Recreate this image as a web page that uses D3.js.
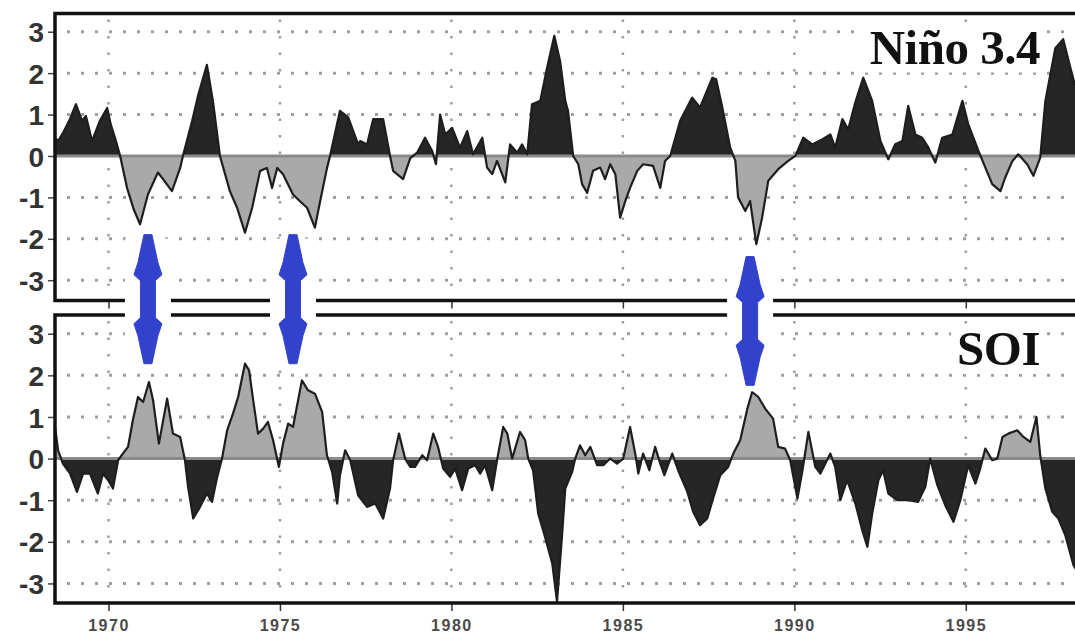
<!DOCTYPE html>
<html>
<head>
<meta charset="utf-8">
<script src="https://cdn.jsdelivr.net/npm/d3@7/dist/d3.min.js"></script>
<style>
  body { margin: 0; background: #fff; }
  svg { display: block; }
</style>
</head>
<body>
<div id="chart"></div>
<script>
// Niño 3.4 index
var ninoYears = [1968.44, 1968.53, 1968.67, 1968.88, 1969.05, 1969.23, 1969.34, 1969.52, 1969.75, 1969.96,
  1970.07, 1970.19, 1970.34, 1970.54, 1970.74, 1970.92, 1971.15, 1971.44, 1971.59, 1971.85,
  1972.09, 1972.17, 1972.44, 1972.61, 1972.87, 1973.05, 1973.25, 1973.54, 1973.75, 1973.98,
  1974.19, 1974.42, 1974.62, 1974.77, 1974.92, 1975.09, 1975.38, 1975.59, 1975.79, 1976.02,
  1976.17, 1976.37, 1976.46, 1976.75, 1976.99, 1977.28, 1977.34, 1977.54, 1977.72, 1978.01,
  1978.21, 1978.30, 1978.59, 1978.80, 1979.00, 1979.23, 1979.44, 1979.55, 1979.67, 1979.82,
  1980.02, 1980.25, 1980.46, 1980.63, 1980.90, 1981.04, 1981.19, 1981.33, 1981.57, 1981.71,
  1981.92, 1982.06, 1982.21, 1982.35, 1982.59, 1982.79, 1983.00, 1983.17, 1983.32, 1983.40,
  1983.55, 1983.70, 1983.81, 1983.96, 1984.13, 1984.34, 1984.48, 1984.63, 1984.78, 1984.92,
  1985.07, 1985.21, 1985.42, 1985.59, 1985.88, 1986.09, 1986.23, 1986.38, 1986.67, 1987.02,
  1987.25, 1987.61, 1987.72, 1987.90, 1988.13, 1988.28, 1988.36, 1988.57, 1988.71, 1988.89,
  1989.06, 1989.24, 1989.53, 1989.82, 1990.03, 1990.26, 1990.52, 1990.81, 1991.05, 1991.19,
  1991.40, 1991.57, 1991.78, 1992.01, 1992.27, 1992.51, 1992.74, 1992.94, 1993.15, 1993.32,
  1993.53, 1993.73, 1993.91, 1994.11, 1994.31, 1994.61, 1994.90, 1995.07, 1995.37, 1995.57,
  1995.77, 1996.01, 1996.15, 1996.36, 1996.53, 1996.79, 1996.97, 1997.17, 1997.32, 1997.61,
  1997.84, 1998.05, 1998.28]
var ninoValues = [0.44, 0.36, 0.55, 0.9, 1.25, 0.85, 0.97, 0.36, 0.85, 1.16,
  0.75, 0.44, 0, -0.77, -1.3, -1.65, -0.93, -0.4, -0.56, -0.85,
  -0.29, 0, 0.85, 1.45, 2.2, 1.3, 0, -0.85, -1.25, -1.85,
  -1.25, -0.36, -0.29, -0.77, -0.29, -0.44, -0.93, -1.1, -1.25, -1.73,
  -1.1, -0.3, 0, 1.09, 0.93, 0.28, 0.36, 0.28, 0.89, 0.89,
  0, -0.36, -0.56, -0.05, 0.08, 0.44, 0.12, -0.2, 1.0, 0.52,
  0.68, 0.2, 0.6, 0.04, 0.44, -0.28, -0.44, -0.12, -0.64, 0.28,
  0.08, 0.28, 0.04, 1.25, 1.33, 2.13, 2.9, 2.29, 1.33, 1.09,
  0, -0.2, -0.68, -0.89, -0.36, -0.28, -0.56, -0.2, -0.44, -1.49,
  -1.09, -0.77, -0.36, -0.2, -0.24, -0.77, -0.12, 0, 0.85, 1.41,
  1.17, 1.89, 1.85, 1.17, 0.2, -0.12, -1.0, -1.33, -1.09, -2.13,
  -1.49, -0.6, -0.32, -0.12, 0, 0.44, 0.28, 0.4, 0.52, 0.2,
  0.89, 0.64, 1.3, 1.89, 1.33, 0.36, -0.08, 0.28, 0.36, 1.21,
  0.52, 0.44, 0.2, -0.16, 0.44, 0.52, 1.33, 0.77, 0.12, -0.28,
  -0.68, -0.85, -0.52, -0.12, 0.04, -0.2, -0.48, -0.04, 1.33, 2.6,
  2.82, 2.13, 1.4]

// Southern Oscillation Index
var soiYears = [1968.44, 1968.53, 1968.67, 1968.88, 1969.08, 1969.26, 1969.46, 1969.69, 1969.84, 1969.99,
  1970.13, 1970.28, 1970.42, 1970.57, 1970.71, 1970.86, 1971.01, 1971.18, 1971.30, 1971.47,
  1971.71, 1971.88, 1972.09, 1972.23, 1972.32, 1972.47, 1972.67, 1972.87, 1973.02, 1973.17,
  1973.31, 1973.46, 1973.63, 1973.78, 1973.98, 1974.10, 1974.22, 1974.36, 1974.51, 1974.65,
  1974.80, 1974.97, 1975.09, 1975.24, 1975.38, 1975.64, 1975.82, 1976.02, 1976.23, 1976.37,
  1976.52, 1976.67, 1976.75, 1976.90, 1977.05, 1977.28, 1977.54, 1977.78, 1978.01, 1978.21,
  1978.30, 1978.47, 1978.65, 1978.80, 1978.94, 1979.15, 1979.29, 1979.47, 1979.61, 1979.76,
  1979.96, 1980.11, 1980.31, 1980.49, 1980.69, 1980.84, 1980.98, 1981.19, 1981.33, 1981.51,
  1981.63, 1981.77, 1982.00, 1982.15, 1982.24, 1982.38, 1982.53, 1982.73, 1982.94, 1983.08,
  1983.23, 1983.32, 1983.52, 1983.61, 1983.75, 1983.90, 1984.05, 1984.25, 1984.43, 1984.63,
  1984.83, 1985.01, 1985.21, 1985.36, 1985.45, 1985.59, 1985.77, 1985.94, 1986.09, 1986.21,
  1986.44, 1986.61, 1986.88, 1987.05, 1987.25, 1987.46, 1987.63, 1987.84, 1988.07, 1988.22,
  1988.42, 1988.63, 1988.77, 1988.95, 1989.15, 1989.38, 1989.53, 1989.73, 1989.88, 1990.09,
  1990.23, 1990.41, 1990.61, 1990.76, 1991.05, 1991.19, 1991.34, 1991.54, 1991.78, 1991.98,
  1992.13, 1992.27, 1992.45, 1992.59, 1992.74, 1993.00, 1993.32, 1993.61, 1993.82, 1993.96,
  1994.17, 1994.40, 1994.64, 1994.84, 1995.07, 1995.28, 1995.42, 1995.57, 1995.77, 1995.92,
  1996.07, 1996.24, 1996.50, 1996.68, 1996.88, 1997.06, 1997.17, 1997.32, 1997.52, 1997.70,
  1997.90, 1998.14, 1998.28]
var soiValues = [0.76, 0.2, -0.12, -0.36, -0.8, -0.36, -0.36, -0.84, -0.36, -0.52,
  -0.72, -0.04, 0.12, 0.28, 0.92, 1.48, 1.36, 1.84, 1.4, 0.36,
  1.44, 0.6, 0.52, -0.04, -0.68, -1.44, -1.16, -0.84, -1.04, -0.44,
  0, 0.68, 1.08, 1.48, 2.28, 2.12, 1.4, 0.6, 0.72, 0.88,
  0.44, -0.2, 0.36, 0.84, 0.76, 1.88, 1.64, 1.56, 1.12, 0.08,
  -0.32, -1.08, -0.4, 0.2, -0.04, -0.88, -1.16, -1.08, -1.44, -0.72,
  -0.04, 0.6, 0, -0.2, -0.2, 0.08, -0.04, 0.6, 0.28, -0.24,
  -0.44, -0.24, -0.76, -0.24, -0.16, -0.36, -0.16, -0.76, -0.04, 0.76,
  0.6, 0, 0.64, 0.44, 0, -0.28, -1.32, -1.88, -2.52, -3.44,
  -1.8, -0.72, -0.32, 0, 0.32, 0.08, 0.28, -0.16, -0.16, 0,
  -0.12, 0, 0.76, 0.12, -0.36, 0.12, -0.28, 0.28, -0.12, -0.4,
  0.12, -0.28, -0.8, -1.28, -1.6, -1.44, -0.96, -0.4, -0.2, 0.12,
  0.44, 1.2, 1.6, 1.48, 1.2, 0.96, 0.28, 0.24, -0.04, -0.96,
  -0.32, 0.64, -0.2, -0.36, 0.12, -0.2, -1.0, -0.52, -1.08, -1.72,
  -2.12, -1.32, -0.52, -0.28, -0.84, -1.0, -1.0, -1.04, -0.68, 0,
  -0.64, -1.12, -1.52, -1.0, -0.16, -0.6, -0.24, 0.24, -0.04, 0,
  0.52, 0.6, 0.68, 0.52, 0.4, 1.0, 0.08, -0.72, -1.28, -1.44,
  -1.84, -2.56, -2.75]

var yTicks = [-3, -2, -1, 0, 1, 2, 3]
var xTicks = [1970, 1975, 1980, 1985, 1990, 1995]

// La Niña events marked with arrows: year, tip in Niño panel, tip in SOI panel
var arrowYears = [1971.15, 1975.38, 1988.71]
var arrowNinoTips = [-1.9, -1.9, -2.43]
var arrowSoiTips = [2.28, 2.28, 1.76]

var width = 1075
var height = 637

var svg = d3
  .select('#chart')
  .append('svg')
  .attr('width', width)
  .attr('height', height)

var xPositionScale = d3.scaleLinear().domain([1968.44, 1998.33]).range([55, 1080])

var panels = [
  {
    id: 'nino',
    title: 'Niño 3.4',
    years: ninoYears,
    values: ninoValues,
    y: d3.scaleLinear().domain([-3.49, 3.44]).range([300.5, 13.5]),
    posColor: '#262626',
    negColor: '#a9a9a9'
  },
  {
    id: 'soi',
    title: 'SOI',
    years: soiYears,
    values: soiValues,
    y: d3.scaleLinear().domain([-3.47, 3.45]).range([603, 315]),
    posColor: '#a9a9a9',
    negColor: '#262626'
  }
]

var defs = svg.append('defs')

panels.forEach(function(p) {
  var y = p.y
  var top = y.range()[1]
  var bottom = y.range()[0]
  var x0 = xPositionScale.range()[0]
  var x1 = xPositionScale.range()[1]
  var points = p.years.map(function(yr, i) {
    return { year: yr, value: p.values[i] }
  })

  defs
    .append('clipPath')
    .attr('id', p.id + '-above')
    .append('rect')
    .attr('x', x0)
    .attr('y', top)
    .attr('width', x1 - x0)
    .attr('height', y(0) - top)
  defs
    .append('clipPath')
    .attr('id', p.id + '-below')
    .append('rect')
    .attr('x', x0)
    .attr('y', y(0))
    .attr('width', x1 - x0)
    .attr('height', bottom - y(0))

  var g = svg.append('g').attr('class', 'panel ' + p.id)

  // dotted grid
  g.selectAll('.hgrid')
    .data(yTicks.filter(d => d !== 0))
    .enter()
    .append('line')
    .attr('x1', x0 + 12)
    .attr('x2', x1)
    .attr('y1', d => y(d))
    .attr('y2', d => y(d))
    .attr('stroke', '#9e9e9e')
    .attr('stroke-width', 3)
    .attr('stroke-dasharray', '3,11')

  g.selectAll('.vgrid')
    .data(xTicks)
    .enter()
    .append('line')
    .attr('x1', d => xPositionScale(d))
    .attr('x2', d => xPositionScale(d))
    .attr('y1', top + 6)
    .attr('y2', bottom)
    .attr('stroke', '#9e9e9e')
    .attr('stroke-width', 2.5)
    .attr('stroke-dasharray', '2.5,14')

  // label with white backing
  var label = g
    .append('text')
    .attr('x', 1040)
    .attr('y', top + 50)
    .attr('text-anchor', 'end')
    .attr('font-family', '"Liberation Serif", "Times New Roman", serif')
    .attr('font-weight', 'bold')
    .attr('font-size', 49)
    .attr('letter-spacing', -0.5)
    .attr('fill', '#111')
    .text(p.title)
  var bb = label.node().getBBox()
  g.insert('rect', 'text')
    .attr('x', bb.x - 6)
    .attr('y', bb.y + 4)
    .attr('width', bb.width + 10)
    .attr('height', bb.height - 6)
    .attr('fill', '#fff')

  var area = d3
    .area()
    .x(d => xPositionScale(d.year))
    .y0(y(0))
    .y1(d => y(d.value))

  var line = d3
    .line()
    .x(d => xPositionScale(d.year))
    .y(d => y(d.value))

  g.append('path')
    .datum(points)
    .attr('d', area)
    .attr('fill', p.posColor)
    .attr('clip-path', 'url(#' + p.id + '-above)')

  g.append('path')
    .datum(points)
    .attr('d', area)
    .attr('fill', p.negColor)
    .attr('clip-path', 'url(#' + p.id + '-below)')

  // zero line
  g.append('line')
    .attr('x1', x0)
    .attr('x2', x1)
    .attr('y1', y(0))
    .attr('y2', y(0))
    .attr('stroke', '#8a8a8a')
    .attr('stroke-width', 3)

  g.append('path')
    .datum(points)
    .attr('d', line)
    .attr('fill', 'none')
    .attr('stroke', '#1e1e1e')
    .attr('stroke-width', 2.2)
    .attr('stroke-linejoin', 'round')

  // axes
  var yAxis = d3
    .axisLeft(y)
    .tickValues(yTicks)
    .tickSize(7)
    .tickPadding(4)
    .tickFormat(d => (d < 0 ? '-' + Math.abs(d) : d))
  var ya = g
    .append('g')
    .attr('class', 'axis y-axis')
    .attr('transform', 'translate(' + x0 + ',0)')
    .call(yAxis)
  ya.select('.domain').remove()
  ya.selectAll('line').attr('stroke', '#444').attr('stroke-width', 1.5)
  ya.selectAll('text')
    .attr('font-family', 'Arial, "Liberation Sans", sans-serif')
    .attr('font-weight', 'bold')
    .attr('font-size', 28)
    .attr('fill', '#333')
    .attr('dy', '0.36em')

  var xAxis = d3
    .axisBottom(xPositionScale)
    .tickValues(xTicks)
    .tickSize(8)
    .tickPadding(9)
    .tickFormat(d => (p.id === 'soi' ? d : ''))
  var xa = g
    .append('g')
    .attr('class', 'axis x-axis')
    .attr('transform', 'translate(0,' + bottom + ')')
    .call(xAxis)
  xa.select('.domain').remove()
  xa.selectAll('line').attr('stroke', '#333').attr('stroke-width', 1.5)
  xa.selectAll('text')
    .attr('font-family', 'Arial, "Liberation Sans", sans-serif')
    .attr('font-weight', 'bold')
    .attr('font-size', 16)
    .attr('letter-spacing', 1.5)
    .attr('fill', '#4a4a4a')

  // frame
  g.append('rect')
    .attr('x', x0)
    .attr('y', top)
    .attr('width', x1 - x0)
    .attr('height', bottom - top)
    .attr('fill', 'none')
    .attr('stroke', '#111')
    .attr('stroke-width', 3.5)
})

// blue double arrows
var ninoY = panels[0].y
var soiY = panels[1].y

function arrowPath(cx, yTop, yBot) {
  var s = 7.5
  return [
    'M', cx - 4, yTop, 'L', cx + 4, yTop,
    'L', cx + 10, yTop + 28, 'L', cx + 14, yTop + 40, 'L', cx + s, yTop + 46,
    'L', cx + s, yBot - 46, 'L', cx + 14, yBot - 40, 'L', cx + 10, yBot - 28,
    'L', cx + 4, yBot, 'L', cx - 4, yBot,
    'L', cx - 10, yBot - 28, 'L', cx - 14, yBot - 40, 'L', cx - s, yBot - 46,
    'L', cx - s, yTop + 46, 'L', cx - 14, yTop + 40, 'L', cx - 10, yTop + 28, 'Z'
  ].join(' ')
}

var arrows = svg
  .selectAll('.arrow')
  .data(arrowYears)
  .enter()
  .append('g')
  .attr('class', 'arrow')

arrows
  .append('rect')
  .attr('x', d => xPositionScale(d) - 23)
  .attr('y', (d, i) => ninoY(arrowNinoTips[i]) + 4)
  .attr('width', 46)
  .attr('height', (d, i) => soiY(arrowSoiTips[i]) - ninoY(arrowNinoTips[i]) - 8)
  .attr('fill', '#fff')

arrows
  .append('path')
  .attr('d', (d, i) => arrowPath(xPositionScale(d), ninoY(arrowNinoTips[i]), soiY(arrowSoiTips[i])))
  .attr('fill', '#fff')
  .attr('stroke', '#fff')
  .attr('stroke-width', 12)
  .attr('stroke-linejoin', 'round')

arrows
  .append('path')
  .attr('d', (d, i) => arrowPath(xPositionScale(d), ninoY(arrowNinoTips[i]), soiY(arrowSoiTips[i])))
  .attr('fill', '#3342cc')
  .attr('stroke', '#3342cc')
  .attr('stroke-width', 1)
</script>
</body>
</html>
